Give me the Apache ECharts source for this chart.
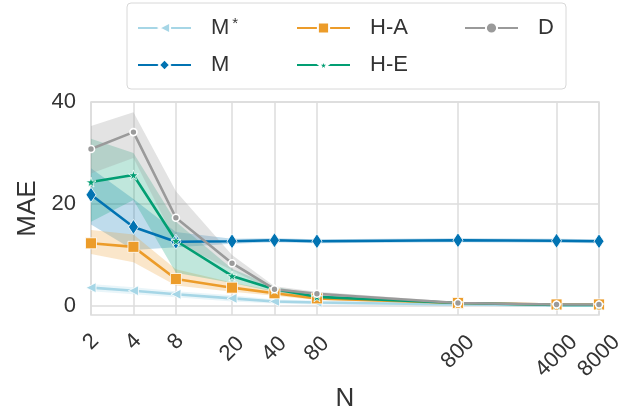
<!DOCTYPE html>
<html><head><meta charset="utf-8">
<script src="https://cdn.jsdelivr.net/npm/echarts@6/dist/echarts.min.js"></script>
<style>html,body{margin:0;padding:0;background:#fff}#c{width:632px;height:418px}</style>
</head><body><div id="c"></div>
<script>
const N = [2, 4, 8, 20, 40, 80, 800, 4000, 8000];
const xTicks = [2, 4, 8, 20, 40, 80, 800, 4000, 8000];
const yTicks = [0, 20, 40];

const mStarMean = [3.6, 3.0, 2.3, 1.5, 0.9, 0.7, 0.3, 0.1, 0.1];
const mStarLow  = [2.9, 2.3, 1.7, 0.9, 0.5, 0.3, 0.0, 0.0, 0.0];
const mStarHigh = [4.3, 3.7, 2.9, 2.1, 1.3, 1.1, 0.6, 0.3, 0.3];

const mMean = [21.8, 15.5, 12.6, 12.7, 12.9, 12.7, 12.9, 12.8, 12.7];
const mLow  = [16.0, 11.0, 11.5, 12.2, 12.5, 12.3, 12.5, 12.4, 12.3];
const mHigh = [27.0, 21.0, 14.5, 13.2, 13.3, 13.1, 13.3, 13.2, 13.1];

const haMean = [12.3, 11.6, 5.3, 3.6, 2.5, 1.5, 0.6, 0.3, 0.3];
const haLow  = [10.2, 8.6, 4.0, 2.8, 2.0, 1.2, 0.4, 0.2, 0.2];
const haHigh = [14.9, 14.0, 7.2, 4.6, 3.0, 1.9, 0.8, 0.5, 0.5];

const heMean = [24.3, 25.7, 12.8, 5.9, 3.3, 1.8, 0.6, 0.2, 0.2];
const heLow  = [16.5, 20.8, 6.5, 4.5, 2.8, 1.5, 0.4, 0.1, 0.1];
const heHigh = [32.8, 30.0, 16.5, 7.3, 3.8, 2.2, 0.8, 0.4, 0.4];

const dMean = [30.8, 34.1, 17.3, 8.4, 3.3, 2.4, 0.6, 0.3, 0.3];
const dLow  = [26.0, 29.0, 12.5, 7.0, 2.8, 2.0, 0.4, 0.2, 0.2];
const dHigh = [35.3, 38.0, 22.5, 10.0, 3.9, 2.8, 0.8, 0.4, 0.4];

const names = ['M*', 'M', 'H-A', 'H-E', 'D'];
const colors = ['#a6d6e6', '#0173b2', '#ec9c2a', '#029e73', '#9a9a9a'];
const means = [mStarMean, mMean, haMean, heMean, dMean];
const lows = [mStarLow, mLow, haLow, heLow, dLow];
const highs = [mStarHigh, mHigh, haHigh, heHigh, dHigh];
const starPath = 'path://M50,0 L61,35 L98,35 L68,57 L79,91 L50,70 L21,91 L32,57 L2,35 L39,35 Z';
const symbols = [
  {symbol: 'triangle', symbolSize: [10, 10], symbolRotate: 90, border: 0.8},
  {symbol: 'diamond', symbolSize: [10, 15], symbolRotate: 0, border: 0.8},
  {symbol: 'rect', symbolSize: [11, 11], symbolRotate: 0, border: 0.8},
  {symbol: starPath, symbolSize: [10, 10], symbolRotate: 0, border: 0.8},
  {symbol: 'circle', symbolSize: [7, 7], symbolRotate: 0, border: 1.6}
];

const series = [];
[0, 1, 2, 3, 4].forEach(i => {
  series.push({
    type: 'custom', silent: true, z: 1,
    data: [[0]],
    renderItem: (params, api) => {
      const up = N.map((n, k) => api.coord([n, highs[i][k]]));
      const lo = N.map((n, k) => api.coord([n, lows[i][k]])).reverse();
      return {type: 'polygon', shape: {points: up.concat(lo)},
        style: {fill: colors[i], opacity: i === 4 ? 0.28 : 0.25}};
    }
  });
});
[0, 1, 2, 3, 4].forEach(i => {
  series.push({
    name: names[i], type: 'line',
    data: N.map((n, k) => [n, means[i][k]]),
    symbol: symbols[i].symbol, symbolSize: symbols[i].symbolSize, symbolRotate: symbols[i].symbolRotate,
    showAllSymbol: true,
    lineStyle: {color: colors[i], width: 2.6},
    itemStyle: {color: colors[i], borderColor: '#fff', borderWidth: symbols[i].border},
    z: 3
  });
});

const FONT = 'Liberation Sans';
const legendItem = (name, w) => ({name: name, textStyle: {width: w}});

// x label groups by label length, so rotated labels hang from a common top line
const labelMargins = {1: 27, 2: 34, 3: 37, 4: 41};
const xAxes = [1, 2, 3, 4].map((len, j) => {
  const vals = xTicks.filter(v => String(v).length === len);
  const ax = {
    type: 'log', logBase: 10, min: 2, max: 8000, position: 'bottom',
    axisLine: {show: false}, axisTick: {show: false},
    axisLabel: {customValues: vals, rotate: 45, align: 'center', verticalAlign: 'middle',
      fontSize: 22, color: '#333', fontFamily: FONT, margin: labelMargins[len],
      formatter: v => String(Math.round(v))},
    splitLine: {show: false}
  };
  if (j === 0) {
    ax.name = 'N'; ax.nameLocation = 'middle'; ax.nameGap = 71;
    ax.nameTextStyle = {fontSize: 26, color: '#333', fontFamily: FONT};
    ax.axisTick = {show: false, customValues: xTicks};
    ax.splitLine = {show: true, lineStyle: {color: '#dcdcdc', width: 1.5}};
  }
  return ax;
});

const chart = echarts.init(document.getElementById('c'), null, {renderer: 'canvas'});
chart.setOption({
  animation: false,
  backgroundColor: '#fff',
  grid: {left: 91, right: 33, top: 102, bottom: 103, show: true, borderColor: '#dcdcdc', borderWidth: 1.5, backgroundColor: '#fff'},
  legend: {
    data: [legendItem('M*', 75), legendItem('H-A', 84), legendItem('D', 16), legendItem('M', 75), legendItem('H-E', 84)],
    left: 127, top: 3, width: 470,
    padding: [13, 12, 12, 10],
    borderColor: '#d8d8d8', borderWidth: 1, borderRadius: 4,
    itemWidth: 53, itemHeight: 14, itemGap: 10,
    textStyle: {fontSize: 22, color: '#333', fontFamily: FONT, lineHeight: 24, padding: [0, 0, 0, 15],
      rich: {sup: {fontSize: 15, fontFamily: FONT, verticalAlign: 'top', lineHeight: 24, padding: [0, 0, 12, 3], color: '#333'},
             n: {fontSize: 22, fontFamily: FONT, lineHeight: 24, color: '#333'}}},
    formatter: n => n === 'M*' ? '{n|M}{sup|*}' : n
  },
  xAxis: xAxes,
  yAxis: {
    type: 'value', min: -1.76, max: 40,
    name: 'MAE', nameLocation: 'middle', nameGap: 50, nameRotate: 90,
    nameTextStyle: {fontSize: 26, color: '#333', fontFamily: FONT},
    axisLine: {show: false}, axisTick: {show: false, customValues: yTicks},
    axisLabel: {customValues: yTicks, fontSize: 22, color: '#333', fontFamily: FONT, margin: 15},
    splitLine: {show: true, lineStyle: {color: '#dcdcdc', width: 1.5}}
  },
  series: series
});
</script></body></html>
